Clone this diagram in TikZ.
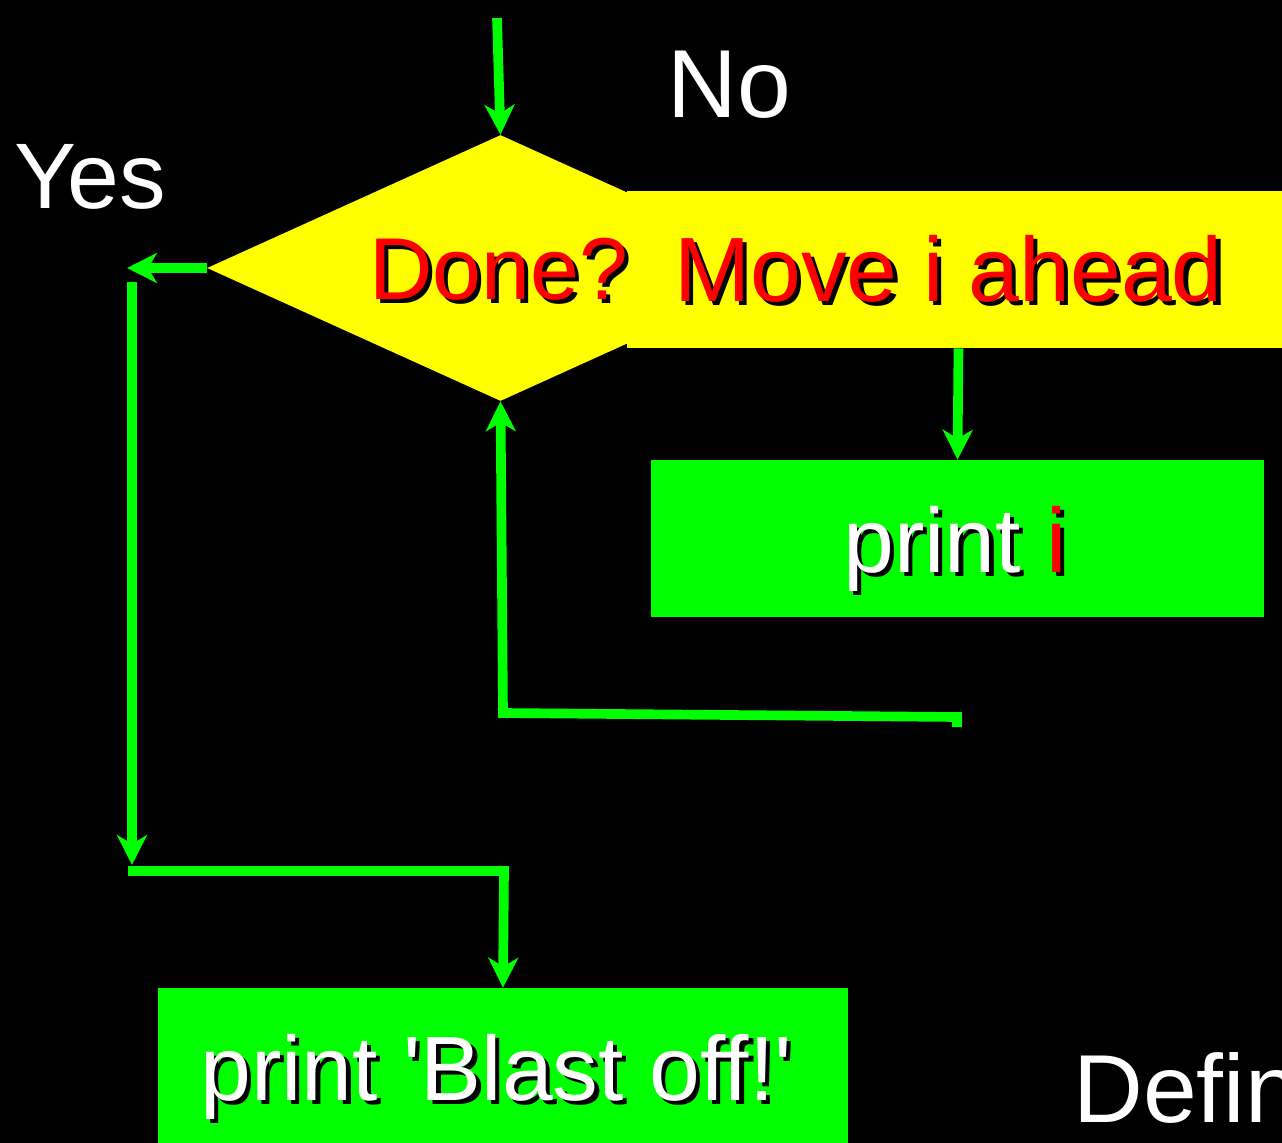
\documentclass[tikz,border=0pt]{standalone}
\usepackage{fontspec}
\setmainfont{Liberation Sans}
\usetikzlibrary{shapes.geometric,arrows.meta}
\definecolor{lgreen}{RGB}{0,255,0}
\definecolor{lyellow}{RGB}{255,255,0}
\definecolor{lred}{RGB}{255,0,0}
\newcommand{\shd}[2]{\rlap{\kern2.4pt\raisebox{-2.4pt}{\color{black}#1}}#2}
\newcommand{\sq}{\textquotesingle}
\begin{document}
\begin{tikzpicture}[x=0.02cm,y=-0.02cm,
  flow/.style={draw=lgreen, line width=5.5pt, -{Stealth[length=17pt,width=17pt,inset=5pt]}},
  lbl/.style={text=white, inner sep=0pt, anchor=base west, font=\fontsize{55}{60}\selectfont},
  btxt/.style={inner sep=0pt, anchor=base west, font=\fontsize{52}{60}\selectfont},
  box/.style={fill=lgreen, inner sep=0pt, minimum height=3.14cm}]
\clip (0,0) rectangle (1282,1143);
\fill[black] (0,0) rectangle (1282,1143);
% shapes
\node[diamond, fill=lyellow, inner sep=0pt, minimum width=11.74cm, minimum height=5.32cm] (dn) at (500.5,268) {};
\node[fill=lyellow, inner sep=0pt, minimum width=13.26cm, minimum height=3.14cm] (mv) at (958.5,269.5) {};
\node[box, minimum width=12.26cm] (pi) at (957.5,538.5) {};
\node[box, minimum width=13.8cm, minimum height=3.44cm] (bo) at (503,1074) {};
% texts
\node[btxt, text=lred, font=\fontsize{50}{60}\selectfont] (tdone) at (369,299) {\shd{Done?}{Done?}};
\node[btxt, text=lred] (tmove) at (674,301) {\shd{Move i ahead}{Move i ahead}};
\node[btxt, text=white] (tpi) at (843,572) {\shd{print i}{print \textcolor{lred}{i}}};
\node[btxt, text=white] (tbo) at (200,1100) {\shd{print \sq Blast off!\sq}{print \sq Blast off!\sq}};
\node[lbl] (no) at (667,117) {No};
\node[lbl, font=\fontsize{53}{60}\selectfont] (yes) at (14,208) {Yes};
\node[lbl] (defin) at (1073,1122) {Defin};
% connectors
\coordinate (start) at (497,18);
\coordinate (ytip) at (127,268);
\coordinate (ltop) at (132,282);
\coordinate (lbot) at (132,865);
\coordinate (b1) at (128,871);
\coordinate (b2) at (504,871);
\coordinate (r1) at (957,727);
\coordinate (r2) at (957,717);
\coordinate (r3) at (503,713);
\draw[flow] (start) -- (dn.north);
\draw[flow] (dn.west) -- (ytip);
\draw[flow] (ltop) -- (lbot);
\draw[flow] (b1) -- (b2) -- (bo.north);
\draw[flow] (r1) -- (r2) -- (r3) -- (dn.south);
\draw[flow] (mv.south) -- (pi.north);
\end{tikzpicture}
\end{document}
